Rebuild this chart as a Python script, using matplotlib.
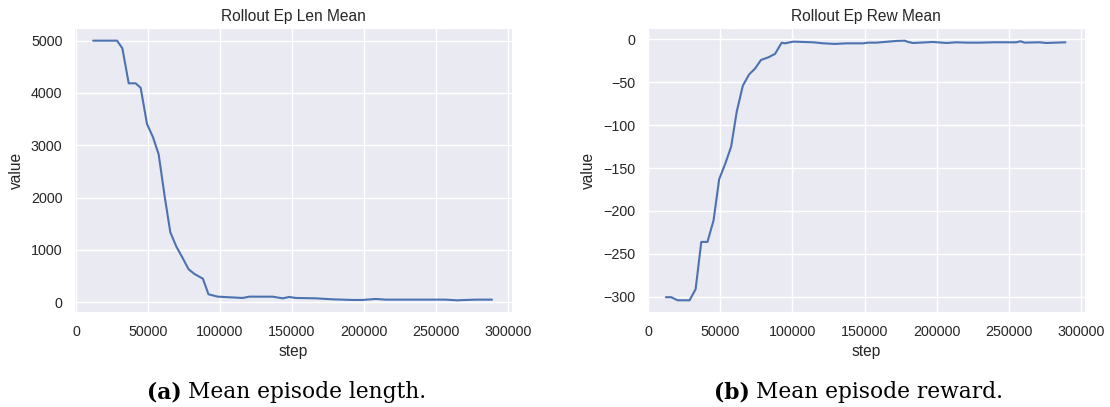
import matplotlib
matplotlib.use("Agg")
import matplotlib.pyplot as plt
import seaborn as sns

# ---- data ----
len_steps = [11900, 28500, 32200, 36600, 41400, 44900, 49300, 53500, 57400, 61600,
             65500, 69700, 73800, 78200, 82300, 88100, 92000, 98500, 115800, 120400,
             136600, 143500, 148100, 152700, 166600, 178100, 192000, 198900, 208100,
             215100, 238200, 256600, 264700, 277400, 288900]
len_values = [5000, 5000, 4854, 4185, 4185, 4100, 3408, 3153, 2828, 2019,
              1338, 1064, 860, 631, 541, 452, 153, 108, 83, 108,
              108, 76, 102, 83, 76, 57, 45, 45, 64,
              51, 51, 51, 38, 51, 51]

rew_steps = [12400, 16100, 20500, 28800, 33000, 36900, 41200, 45400, 49300, 53500,
             57600, 61500, 65700, 70000, 74200, 78300, 83400, 88000, 92600, 94900,
             100700, 114500, 121400, 129500, 137500, 142100, 149000, 152500, 158300,
             172100, 177900, 180200, 183600, 197500, 206700, 213600, 220500, 229700,
             239000, 255100, 258100, 260800, 271200, 275800, 289200]
rew_values = [-300.4, -300.4, -304, -304, -291, -236, -236, -211, -163, -145,
              -125, -84, -54, -41, -34, -24, -21, -17, -4.0, -4.7,
              -2.7, -3.5, -4.7, -5.4, -4.7, -4.7, -4.7, -3.9, -3.9,
              -1.9, -1.6, -3.1, -4.3, -3.1, -4.3, -3.5, -3.9, -3.9,
              -3.5, -3.5, -2.3, -3.9, -3.5, -4.3, -3.5]

titles = ["Rollout Ep Len Mean", "Rollout Ep Rew Mean"]
xlabel = "step"
ylabel = "value"
captions = [("(a)", "Mean episode length."), ("(b)", "Mean episode reward.")]

# ---- style ----
sns.set_theme(style="darkgrid")
plt.rcParams['font.family'] = ['Liberation Sans', 'DejaVu Sans']

W, H = 1110, 407
fig = plt.figure(figsize=(W / 100, H / 100), dpi=100)

def px_axes(x0, y0, x1, y1):
    return fig.add_axes([x0 / W, 1 - y1 / H, (x1 - x0) / W, (y1 - y0) / H])

ax1 = px_axes(75, 29, 512, 312.3)
ax2 = px_axes(647.5, 29, 1084.5, 312.3)

color = "#4C72B0"
ax1.plot(len_steps, len_values, color=color, lw=1.5)
ax2.plot(rew_steps, rew_values, color=color, lw=1.5)

ax1.set_xlim(-700, 302800)
ax1.set_ylim(-191, 5223)
ax2.set_xlim(-350, 302400)
ax2.set_ylim(-318, 12)

ax1.set_yticks([0, 1000, 2000, 3000, 4000, 5000])
ax2.set_yticks([0, -50, -100, -150, -200, -250, -300])
for ax, t in zip((ax1, ax2), titles):
    ax.set_xticks([0, 50000, 100000, 150000, 200000, 250000, 300000])
    ax.set_title(t, fontsize=11.2, pad=6)
    ax.set_xlabel(xlabel, fontsize=11.2, labelpad=4)
    ax.set_ylabel(ylabel, fontsize=11.2, labelpad=5)
    ax.tick_params(axis='both', labelsize=10.3, length=0, pad=9, colors='#262626')
    ax.grid(True, color='white', lw=1.0)
    ax.set_facecolor('#EAEAF2')
    for s in ax.spines.values():
        s.set_visible(False)

# ---- captions ----
fig.canvas.draw()
renderer = fig.canvas.get_renderer()
cap_size = 15.7
for (bold, rest), x0 in zip(captions, (147, 714)):
    t1 = fig.text(x0 / W, 1 - 398 / H, bold, fontsize=cap_size, weight='bold',
                  family='DejaVu Serif', ha='left', va='baseline', color='black')
    bb = t1.get_window_extent(renderer)
    fig.text((bb.x1 + 6) / W, 1 - 398 / H, rest, fontsize=cap_size,
             family='DejaVu Serif', ha='left', va='baseline', color='black')

fig.savefig("out.png", dpi=100)
